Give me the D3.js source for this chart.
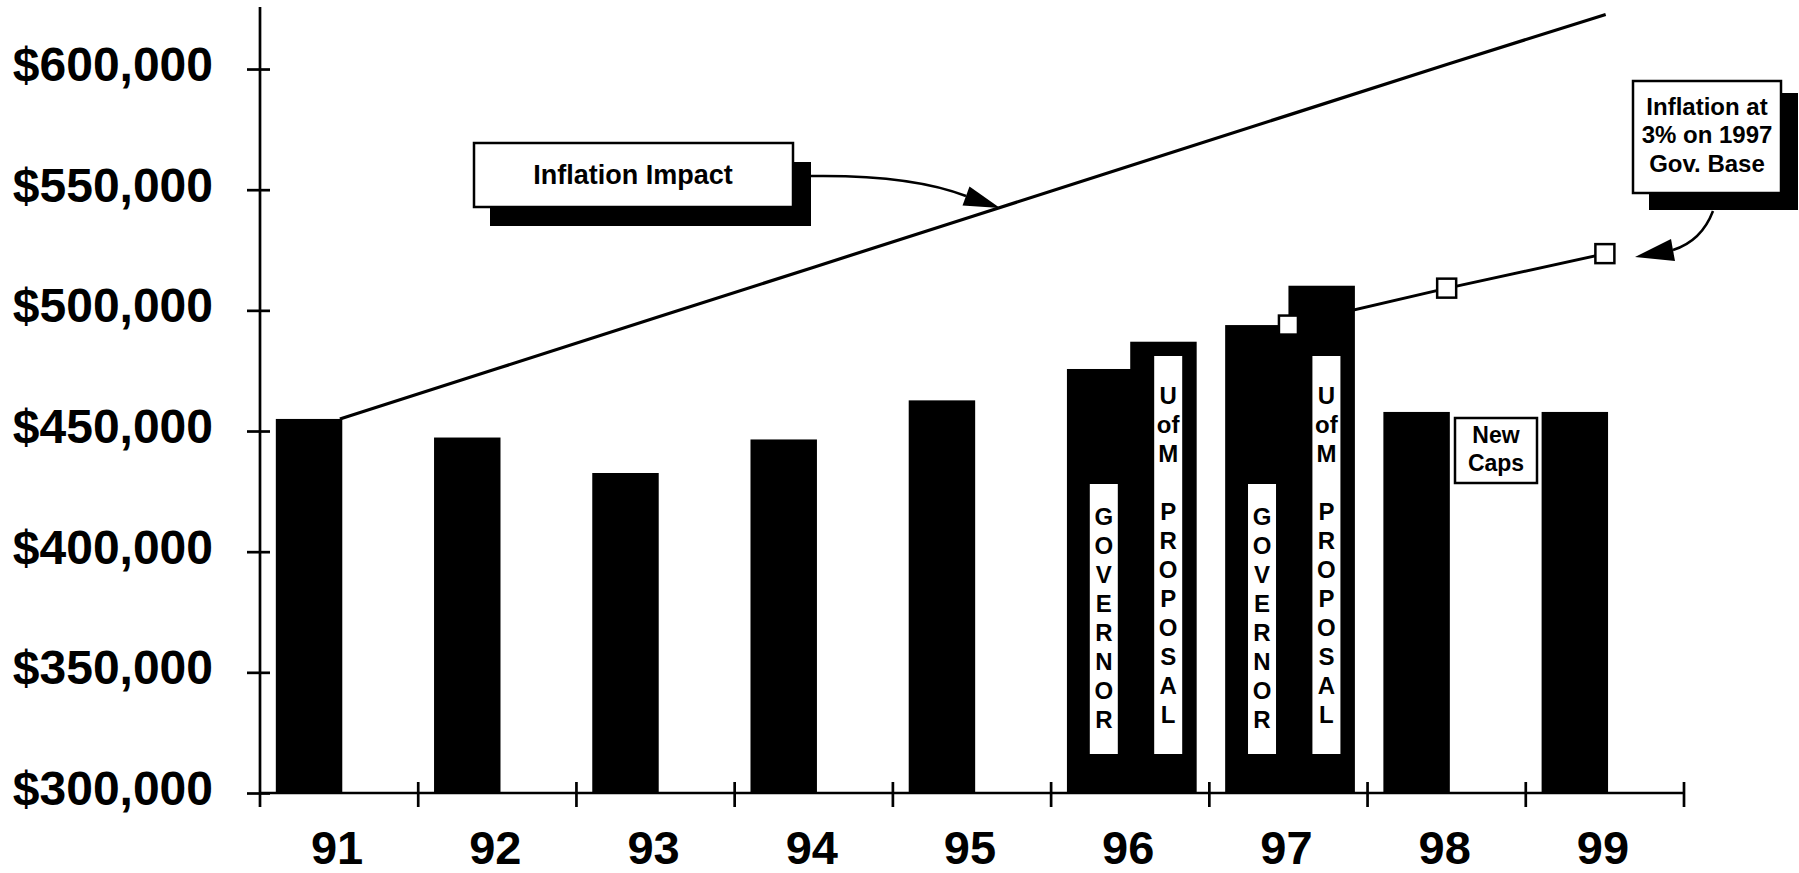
<!DOCTYPE html>
<html>
<head>
<meta charset="utf-8">
<script src="https://cdn.jsdelivr.net/npm/d3@7"></script>
<style>
  html, body { margin: 0; padding: 0; background: #fff; }
  svg { display: block; }
  text { font-family: "Liberation Sans", Arial, Helvetica, sans-serif; font-weight: bold; fill: #000; }
</style>
</head>
<body>
<svg id="chart" width="1799" height="873"></svg>
<script>
// ---------------- DATA ----------------
const years = ["91", "92", "93", "94", "95", "96", "97", "98", "99"];
// Governor / actual funding per year
const baseValues = [455000, 447300, 432600, 446500, 462700, 475700, 493900, 457900, 457900];
// U of M proposal bars
const uofmYears = ["96", "97"];
const uofmValues = [487000, 510200];
// Inflation impact line (from 1991 base)
const inflationValues = [455000, 476000, 497000, 518000, 539000, 560000, 581000, 602000, 622600];
// Inflation at 3% on 1997 Gov. base
const gov3Years = ["97", "98", "99"];
const gov3Values = [493900, 509200, 523500];
// Axis ticks
const yTicks = [300000, 350000, 400000, 450000, 500000, 550000, 600000];
// Label texts
const govLetters = ["G", "O", "V", "E", "R", "N", "O", "R"];
const uofmLetters = ["U", "of", "M", "", "P", "R", "O", "P", "O", "S", "A", "L"];

// ---------------- SETUP ----------------
const svg = d3.select("#chart");
const x = d3.scaleBand().domain(years).range([260, 1684]).padding(0);
const y = d3.scaleLinear().domain([300000, 625700]).range([793, 7]);
const bw = x.bandwidth();
const axisW = 2.7;

// ---------------- LINES (behind bars) ----------------
const line = d3.line().x(d => x(d.year) + bw * 0.505).y(d => y(d.v));

svg.append("path")
  .datum(years.map((yr, i) => ({ year: yr, v: inflationValues[i] })))
  .attr("d", line)
  .attr("fill", "none").attr("stroke", "#000").attr("stroke-width", 3.2);

const gov3 = gov3Years.map((yr, i) => ({ year: yr, v: gov3Values[i] }));
svg.append("path")
  .datum(gov3)
  .attr("d", line)
  .attr("fill", "none").attr("stroke", "#000").attr("stroke-width", 3);

// ---------------- BARS ----------------
svg.append("g").selectAll("rect")
  .data(years.map((yr, i) => ({ year: yr, v: baseValues[i] })))
  .join("rect")
  .attr("x", d => x(d.year) + bw * 0.1)
  .attr("width", bw * 0.42)
  .attr("y", d => y(d.v))
  .attr("height", d => y(300000) - y(d.v))
  .attr("fill", "#000");

svg.append("g").selectAll("rect")
  .data(uofmYears.map((yr, i) => ({ year: yr, v: uofmValues[i] })))
  .join("rect")
  .attr("x", d => x(d.year) + bw * 0.5)
  .attr("width", bw * 0.42)
  .attr("y", d => y(d.v))
  .attr("height", d => y(300000) - y(d.v))
  .attr("fill", "#000");

// Vertical white labels inside bars
const step = 29;
uofmYears.forEach(yr => {
  const gx = x(yr) + bw * 0.333;
  const ux = x(yr) + bw * 0.74;
  // Governor label
  svg.append("rect").attr("x", gx - 14).attr("y", 484).attr("width", 28).attr("height", 270).attr("fill", "#fff");
  svg.append("g").selectAll("text").data(govLetters).join("text")
    .attr("x", gx).attr("y", (d, i) => 516 + i * step + 8.6)
    .attr("text-anchor", "middle").attr("font-size", 24).text(d => d);
  // U of M proposal label
  svg.append("rect").attr("x", ux - 14).attr("y", 356).attr("width", 28).attr("height", 398).attr("fill", "#fff");
  svg.append("g").selectAll("text").data(uofmLetters).join("text")
    .attr("x", ux).attr("y", (d, i) => 395 + i * step + 8.6)
    .attr("text-anchor", "middle").attr("font-size", 24).text(d => d);
});

// Markers for 3% line
svg.append("g").selectAll("rect")
  .data(gov3)
  .join("rect")
  .attr("x", d => x(d.year) + bw * 0.5 - 9.5)
  .attr("y", d => y(d.v) - 9.5)
  .attr("width", 19).attr("height", 19)
  .attr("fill", "#fff").attr("stroke", "#000").attr("stroke-width", 2.5);

// ---------------- AXES ----------------
const yAxis = svg.append("g").attr("transform", "translate(260,0)")
  .call(d3.axisLeft(y).tickValues(yTicks).tickSize(13).tickSizeOuter(0).tickPadding(34)
    .tickFormat(d => "$" + d3.format(",")(d)));
yAxis.select(".domain").remove();
yAxis.selectAll(".tick line").attr("x1", -13).attr("x2", 10).attr("stroke", "#000").attr("stroke-width", axisW);
yAxis.selectAll(".tick text").attr("font-size", 48).attr("dy", "0.24em")
  .style("font-family", "'Liberation Sans', Arial, Helvetica, sans-serif").style("font-weight", "bold");
svg.append("line").attr("x1", 260).attr("x2", 260).attr("y1", y.range()[1]).attr("y2", 807)
  .attr("stroke", "#000").attr("stroke-width", axisW);

const xAxis = svg.append("g").attr("transform", "translate(-2,793)")
  .call(d3.axisBottom(x).tickSize(0).tickPadding(38));
xAxis.select(".domain").remove();
xAxis.selectAll(".tick text").attr("font-size", 47)
  .style("font-family", "'Liberation Sans', Arial, Helvetica, sans-serif").style("font-weight", "bold");
svg.append("line").attr("x1", x.range()[0]).attr("x2", x.range()[1]).attr("y1", 793).attr("y2", 793)
  .attr("stroke", "#000").attr("stroke-width", axisW);
svg.append("g").selectAll("line")
  .data(years.map(yr => x(yr)).concat([x.range()[1]]).slice(1))
  .join("line")
  .attr("x1", d => d).attr("x2", d => d).attr("y1", 782).attr("y2", 807)
  .attr("stroke", "#000").attr("stroke-width", axisW);

// ---------------- ANNOTATIONS ----------------
// Inflation Impact callout
svg.append("rect").attr("x", 490).attr("y", 162).attr("width", 321).attr("height", 64).attr("fill", "#000");
svg.append("rect").attr("x", 474).attr("y", 143).attr("width", 319).attr("height", 64)
  .attr("fill", "#fff").attr("stroke", "#000").attr("stroke-width", 2.5);
svg.append("text").attr("x", 633).attr("y", 184).attr("text-anchor", "middle").attr("font-size", 27)
  .text("Inflation Impact");
svg.append("path").attr("d", "M811,176 C880,175 930,182 966,196")
  .attr("fill", "none").attr("stroke", "#000").attr("stroke-width", 2.5);
svg.append("path").attr("d", "M1000,208 L962.5,205.6 L969.5,186.4 Z").attr("fill", "#000");

// Inflation at 3% callout
svg.append("rect").attr("x", 1649).attr("y", 93).attr("width", 149).attr("height", 117).attr("fill", "#000");
svg.append("rect").attr("x", 1633).attr("y", 81).attr("width", 148).attr("height", 112)
  .attr("fill", "#fff").attr("stroke", "#000").attr("stroke-width", 2.5);
const calloutLines = ["Inflation at", "3% on 1997", "Gov. Base"];
svg.append("g").selectAll("text").data(calloutLines).join("text")
  .attr("x", 1707).attr("y", (d, i) => 115 + i * 28.3)
  .attr("text-anchor", "middle").attr("font-size", 24).text(d => d);
svg.append("path").attr("d", "M1713,211 C1705,232 1692,244 1673,250")
  .attr("fill", "none").attr("stroke", "#000").attr("stroke-width", 2.5);
svg.append("path").attr("d", "M1635,257 L1675,261 L1671,239 Z").attr("fill", "#000");

// New Caps box
svg.append("rect").attr("x", 1455).attr("y", 418).attr("width", 82).attr("height", 65)
  .attr("fill", "#fff").attr("stroke", "#000").attr("stroke-width", 2.5);
svg.append("text").attr("x", 1496).attr("y", 443).attr("text-anchor", "middle").attr("font-size", 23).text("New");
svg.append("text").attr("x", 1496).attr("y", 471).attr("text-anchor", "middle").attr("font-size", 23).text("Caps");
</script>
</body>
</html>
